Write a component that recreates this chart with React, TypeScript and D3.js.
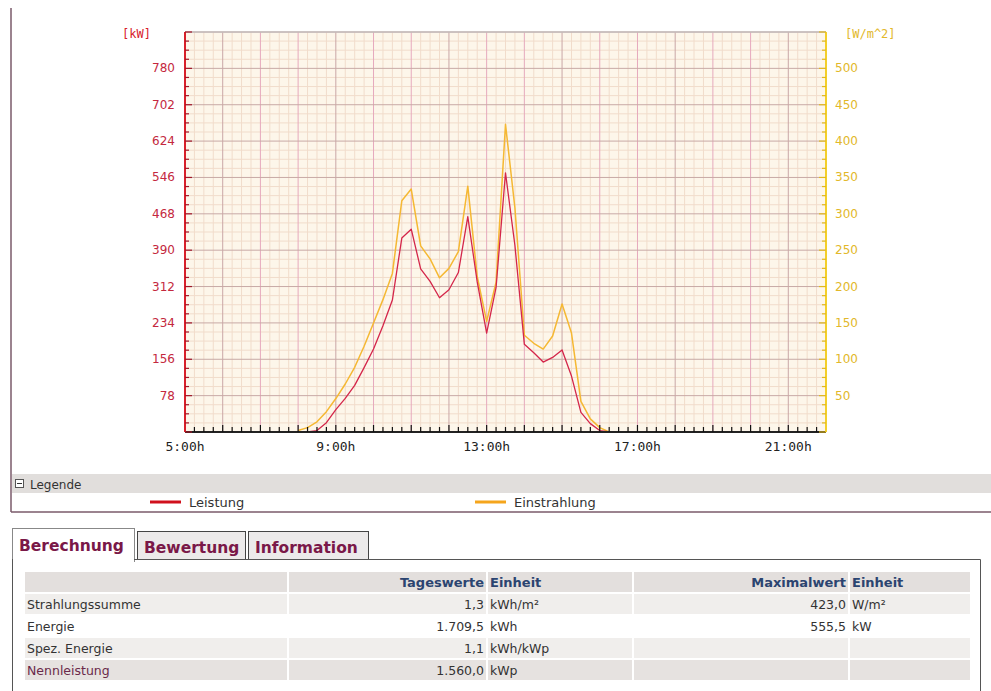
import React, { useEffect, useRef } from 'react';
import * as d3 from 'd3';

// times in hours (15 min steps)
const times = [
  8.0, 8.25, 8.5, 8.75, 9.0, 9.25, 9.5, 9.75, 10.0, 10.25, 10.5, 10.75, 11.0, 11.25,
  11.5, 11.75, 12.0, 12.25, 12.5, 12.75, 13.0, 13.25, 13.5, 13.75, 14.0, 14.25, 14.5,
  14.75, 15.0, 15.25, 15.5, 15.75, 16.0, 16.25,
];
// Leistung [kW]
const leistung = [
  0, 0, 3, 20, 48, 72, 100, 138, 178, 228, 283, 416, 435, 350,
  323, 288, 305, 342, 462, 322, 212, 310, 556, 400, 188, 170, 150,
  160, 176, 120, 42, 18, 3, 0,
];
// Einstrahlung [W/m^2]
const einstrahlung = [
  2, 6, 14, 28, 46, 66, 89, 118, 150, 182, 218, 318, 334, 256,
  238, 212, 225, 248, 338, 214, 152, 206, 423, 308, 133, 122, 114,
  132, 176, 136, 42, 18, 6, 0,
];

const leftTicks = [78, 156, 234, 312, 390, 468, 546, 624, 702, 780];
const rightTicks = [50, 100, 150, 200, 250, 300, 350, 400, 450, 500];
const hourLabels = [5, 9, 13, 17, 21];

const tableHeader = ['', 'Tageswerte', 'Einheit', 'Maximalwert', 'Einheit'];
const tableRows = [
  ['Strahlungssumme', '1,3', 'kWh/m²', '423,0', 'W/m²'],
  ['Energie', '1.709,5', 'kWh', '555,5', 'kW'],
  ['Spez. Energie', '1,1', 'kWh/kWp', '', ''],
  ['Nennleistung', '1.560,0', 'kWp', '', ''],
];
const tabs = ['Berechnung', 'Bewertung', 'Information'];

const App = () => {
  const ref = useRef<SVGSVGElement>(null);

  useEffect(() => {
    const svg = d3.select(ref.current);
    svg.selectAll('*').remove();

    const left = 185, right = 826, top = 32, bottom = 432;
    const x = d3.scaleLinear().domain([5, 22]).range([left, right]);
    const yL = d3.scaleLinear().domain([0, 858]).range([bottom, top]);
    const yR = d3.scaleLinear().domain([0, 550]).range([bottom, top]);

    const sans = 'Verdana, "DejaVu Sans", sans-serif';
    const mono = '"DejaVu Sans Mono", monospace';

    // outer frame of chart box
    svg.append('line').attr('x1', 11).attr('x2', 11).attr('y1', 8).attr('y2', 512)
      .attr('stroke', '#7a5a6a').attr('stroke-width', 1.5);
    svg.append('line').attr('x1', 11).attr('x2', 991).attr('y1', 512).attr('y2', 512)
      .attr('stroke', '#7a5a6a').attr('stroke-width', 1.5);

    // plot background
    svg.append('rect').attr('x', left).attr('y', top).attr('width', right - left)
      .attr('height', bottom - top).attr('fill', '#fdf6ea');

    const g = svg.append('g');
    // minor grid
    d3.range(5, 22.01, 0.25).forEach(t => {
      if (t % 1 === 0) return;
      g.append('line').attr('x1', x(t)).attr('x2', x(t)).attr('y1', top).attr('y2', bottom)
        .attr('stroke', '#f1dccb').attr('stroke-width', 1);
    });
    d3.range(0, 858.01, 19.5).forEach(v => {
      if (v % 78 === 0) return;
      g.append('line').attr('x1', left).attr('x2', right).attr('y1', yL(v)).attr('y2', yL(v))
        .attr('stroke', '#f1dccb').attr('stroke-width', 1);
    });
    // major grid
    d3.range(6, 22, 1).forEach((t, i) => {
      g.append('line').attr('x1', x(t)).attr('x2', x(t)).attr('y1', top).attr('y2', bottom)
        .attr('stroke', i % 3 === 0 ? '#c9a6a6' : '#e6a9bd').attr('stroke-width', 1);
    });
    d3.range(78, 858.01, 78).forEach(v => {
      g.append('line').attr('x1', left).attr('x2', right).attr('y1', yL(v)).attr('y2', yL(v))
        .attr('stroke', '#c8aaa6').attr('stroke-width', 1);
    });
    // top border
    g.append('line').attr('x1', left).attr('x2', right).attr('y1', top).attr('y2', top)
      .attr('stroke', '#c4bcbc').attr('stroke-width', 1.5);

    // lines
    const ptsE = times.map((t, i) => [t, einstrahlung[i]] as [number, number]);
    const ptsL = times.map((t, i) => [t, leistung[i]] as [number, number]);
    const lineE = d3.line<[number, number]>().x(d => x(d[0])).y(d => yR(d[1]));
    const lineL = d3.line<[number, number]>().x(d => x(d[0])).y(d => yL(d[1]));
    svg.append('path').attr('d', lineE(ptsE)).attr('fill', 'none')
      .attr('stroke', '#f5b833').attr('stroke-width', 1.5).attr('stroke-linejoin', 'round');
    svg.append('path').attr('d', lineL(ptsL)).attr('fill', 'none')
      .attr('stroke', '#d4264a').attr('stroke-width', 1.3).attr('stroke-linejoin', 'round');

    // x axis ticks
    svg.append('line').attr('x1', left).attr('x2', right).attr('y1', bottom).attr('y2', bottom)
      .attr('stroke', '#222').attr('stroke-width', 2);
    d3.range(5, 22.01, 0.25).forEach(t => {
      const major = t % 1 === 0;
      svg.append('line').attr('x1', x(t)).attr('x2', x(t)).attr('y1', bottom)
        .attr('y2', bottom - (major ? 7 : 5)).attr('stroke', '#111').attr('stroke-width', 1.2);
    });
    hourLabels.forEach(h => {
      svg.append('text').attr('x', x(h)).attr('y', bottom + 19).attr('text-anchor', 'middle')
        .attr('font-family', mono).attr('font-size', 13).attr('fill', '#222').text(`${h}:00h`);
    });

    // left axis
    svg.append('line').attr('x1', left).attr('x2', left).attr('y1', top).attr('y2', bottom)
      .attr('stroke', '#d8202a').attr('stroke-width', 2);
    d3.range(0, 858.01, 19.5).forEach(v => {
      const major = v % 78 === 0;
      svg.append('line').attr('x1', left).attr('x2', left + (major ? 7 : 4))
        .attr('y1', yL(v)).attr('y2', yL(v)).attr('stroke', '#a01828').attr('stroke-width', 1.2);
    });
    leftTicks.forEach(v => {
      svg.append('text').attr('x', left - 10).attr('y', yL(v) + 4).attr('text-anchor', 'end')
        .attr('font-family', sans).attr('font-size', 12).attr('fill', '#c4283e').text(v);
    });
    svg.append('text').attr('x', left - 34).attr('y', top + 6).attr('text-anchor', 'end')
      .attr('font-family', mono).attr('font-size', 12).attr('fill', '#d8202a').text('[kW]');

    // right axis
    svg.append('line').attr('x1', right).attr('x2', right).attr('y1', top).attr('y2', bottom)
      .attr('stroke', '#f3cf2a').attr('stroke-width', 2);
    d3.range(0, 550.01, 12.5).forEach(v => {
      const major = v % 50 === 0;
      svg.append('line').attr('x1', right).attr('x2', right - (major ? 7 : 4))
        .attr('y1', yR(v)).attr('y2', yR(v)).attr('stroke', '#e0b820').attr('stroke-width', 1.2);
    });
    rightTicks.forEach(v => {
      svg.append('text').attr('x', right + 9).attr('y', yR(v) + 4).attr('text-anchor', 'start')
        .attr('font-family', sans).attr('font-size', 12).attr('fill', '#e2b82a').text(v);
    });
    svg.append('text').attr('x', right + 19).attr('y', top + 6).attr('text-anchor', 'start')
      .attr('font-family', mono).attr('font-size', 12).attr('fill', '#e2b82a').text('[W/m^2]');

    // legend bar
    svg.append('rect').attr('x', 12).attr('y', 474).attr('width', 979).attr('height', 19)
      .attr('fill', '#e1dedc');
    svg.append('rect').attr('x', 15.5).attr('y', 479.5).attr('width', 8).attr('height', 8)
      .attr('fill', '#fff').attr('stroke', '#555');
    svg.append('line').attr('x1', 17).attr('x2', 22).attr('y1', 483.5).attr('y2', 483.5)
      .attr('stroke', '#333');
    svg.append('text').attr('x', 30).attr('y', 489).attr('font-family', sans)
      .attr('font-size', 12).attr('fill', '#333').text('Legende');

    const legend = [
      { label: 'Leistung', color: '#d0101c', x0: 150 },
      { label: 'Einstrahlung', color: '#f5a51c', x0: 475 },
    ];
    legend.forEach(l => {
      svg.append('line').attr('x1', l.x0).attr('x2', l.x0 + 31).attr('y1', 502).attr('y2', 502)
        .attr('stroke', l.color).attr('stroke-width', 3);
      svg.append('text').attr('x', l.x0 + 39).attr('y', 507).attr('font-family', sans)
        .attr('font-size', 13).attr('fill', '#333').text(l.label);
    });

    // tabs
    const tabX = [12, 137, 248];
    const tabW = [122, 108, 120];
    tabs.forEach((t, i) => {
      const active = i === 0;
      const ty = active ? 528 : 531;
      svg.append('rect').attr('x', tabX[i] + 0.5).attr('y', ty + 0.5).attr('width', tabW[i])
        .attr('height', 559 - ty + (active ? 2 : 0))
        .attr('fill', active ? '#fff' : '#eceaea').attr('stroke', active ? '#888' : '#444')
        .attr('stroke-width', 1);
      svg.append('text').attr('x', tabX[i] + 7).attr('y', active ? 551 : 553)
        .attr('font-family', sans).attr('font-weight', 'bold').attr('font-size', 15.5)
        .attr('fill', '#7a1848').text(t);
    });
    // panel
    svg.append('line').attr('x1', 134).attr('x2', 980.5).attr('y1', 559.5).attr('y2', 559.5)
      .attr('stroke', '#555');
    svg.append('line').attr('x1', 980.5).attr('x2', 980.5).attr('y1', 559.5).attr('y2', 691)
      .attr('stroke', '#555');
    svg.append('line').attr('x1', 12.5).attr('x2', 12.5).attr('y1', 559).attr('y2', 691)
      .attr('stroke', '#555');
    // white mask under active tab to join panel
    svg.append('rect').attr('x', 13).attr('y', 556).attr('width', 121).attr('height', 6).attr('fill', '#fff');

    // table
    const colX = [25, 289, 488, 634, 850, 972];
    const rowY = [572, 594, 616, 638, 660, 682];
    const rowFill = ['#e3dfdd', '#f0eeec', '#ffffff', '#f0eeec', '#e6e2e0'];
    for (let r = 0; r < 5; r++) {
      for (let c = 0; c < 5; c++) {
        svg.append('rect').attr('x', colX[c]).attr('y', rowY[r])
          .attr('width', colX[c + 1] - colX[c] - 2).attr('height', 20).attr('fill', rowFill[r]);
      }
    }
    tableHeader.forEach((h, c) => {
      if (!h) return;
      const rightAlign = c === 1 || c === 3;
      svg.append('text').attr('x', rightAlign ? colX[c + 1] - 4 : colX[c] + 2).attr('y', rowY[0] + 15)
        .attr('text-anchor', rightAlign ? 'end' : 'start').attr('font-family', sans)
        .attr('font-weight', 'bold').attr('font-size', 13).attr('fill', '#2b4470').text(h);
    });
    tableRows.forEach((row, r) => {
      row.forEach((cell, c) => {
        if (!cell) return;
        const rightAlign = c === 1 || c === 3;
        svg.append('text').attr('x', rightAlign ? colX[c + 1] - 4 : colX[c] + 2)
          .attr('y', rowY[r + 1] + 15).attr('text-anchor', rightAlign ? 'end' : 'start')
          .attr('font-family', sans).attr('font-size', 12.5)
          .attr('fill', r === 3 && c === 0 ? '#6a2a4a' : '#333').text(cell);
      });
    });
  }, []);

  return (
    <svg ref={ref} width={991} height={691}
      style={{ position: 'absolute', left: 0, top: 0, background: '#fff' }} />
  );
};

export default App;
